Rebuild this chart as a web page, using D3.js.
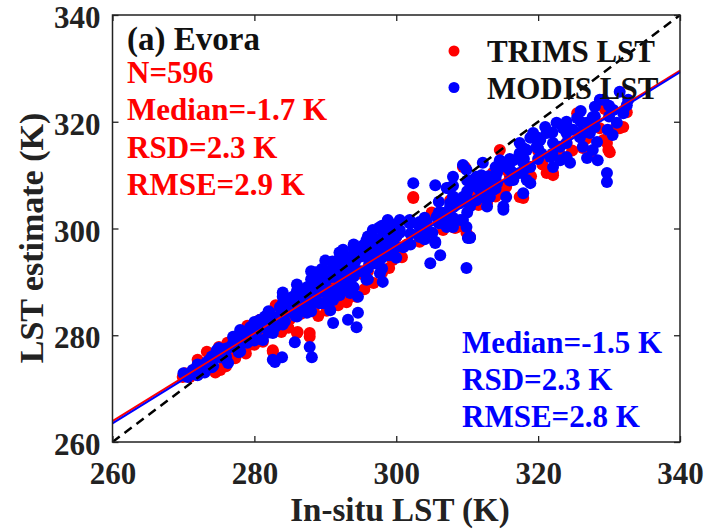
<!DOCTYPE html>
<html>
<head>
<meta charset="utf-8">
<script src="https://cdn.jsdelivr.net/npm/d3@7"></script>
<style>
  body { margin: 0; background: #fff; }
  text { font-family: "Liberation Serif", "Times New Roman", serif; font-weight: bold; }
</style>
</head>
<body>
<svg id="chart" width="707" height="531"></svg>
<script>
// Axis ticks (K)
const xTicks = [260, 280, 300, 320, 340];
const yTicks = [260, 280, 300, 320, 340];

// TRIMS LST estimates: [in-situ LST, estimated LST]
const trims = [
  [269.9,272.2],[270.2,272.9],[270.9,272.2],[271.9,274.1],[272.5,273.0],[273.3,276.9],[274.0,274.0],
  [275.2,273.5],[275.8,275.0],[276.2,278.6],[276.8,276.0],[277.3,275.7],[277.5,276.7],[278.2,277.8],
  [279.0,278.0],[279.8,279.7],[280.5,279.3],[280.8,282.9],[281.5,280.5],[282.3,281.0],[282.6,277.2],
  [282.6,276.9],[283.5,282.0],[284.6,286.0],[285.0,283.0],[286.0,280.4],[286.1,280.6],[286.5,284.0],
  [287.4,286.6],[287.8,279.7],[287.8,280.4],[288.5,285.5],[289.5,287.0],[290.5,288.0],[291.5,286.5],
  [292.5,289.0],[293.5,290.0],[294.4,287.2],[293.5,287.2],[295.0,291.5],[296.0,292.0],[297.0,293.5],
  [298.0,291.7],[298.5,295.0],[299.5,294.1],[300.5,296.5],[301.5,297.0],[302.4,305.9],[302.4,305.7],
  [303.3,297.8],[303.3,297.5],[304.5,299.0],[306.6,299.7],[308.0,300.3],[308.3,300.1],[308.6,300.3],
  [309.9,299.2],[310.4,298.4],[307.6,305.3],[309.4,311.5],[309.7,311.5],[310.8,307.2],[312.2,307.8],
  [312.8,304.8],[313.6,310.4],[314.6,314.7],[315.1,306.6],[315.1,307.2],[315.5,307.8],[315.5,311.0],
  [317.4,305.9],[317.9,305.7],[318.4,309.7],[321.2,310.4],[322.1,310.0],[322.1,310.4],[323.1,313.8],
  [325.5,321.6],[326.3,315.1],[327.3,314.0],[328.7,318.8],[329.2,316.6],[329.4,322.4],[329.7,316.0],
  [329.9,314.7],[330.1,314.3],[330.6,318.5],[331.5,318.8],[332.0,319.0],[332.5,321.8],
  [285.0,285.0],[288.0,287.0],[291.0,290.0],[294.0,292.5],[297.0,296.0],[300.0,298.5],[305.0,303.0],
  [311.0,306.0],[316.0,310.0],[320.0,314.5],[324.0,316.0],[327.0,319.0],
  [274.5,273.0],[276.0,274.2],[278.8,276.6],[280.0,278.2],[281.2,278.8],[283.8,280.6],[284.8,281.4],
  [289.0,283.6],[290.2,284.6],[291.8,285.6],[293.0,286.2],[295.5,288.6],[296.8,289.8],[299.0,292.6],
  [300.8,294.6],[272.0,275.4],[275.0,277.8],[279.0,281.8],[283.0,285.6],[311.6,304.4],[314.0,306.0],
  [319.0,309.8],[320.6,312.0],[324.8,314.6],[326.8,316.8]
];

// MODIS LST estimates: [in-situ LST, estimated LST]
const modis = [
  [270.0,272.9],[270.6,272.2],[271.3,273.5],[271.8,272.6],[272.4,274.2],[272.8,273.9],[273.3,275.0],
  [273.7,275.4],[274.2,274.3],[274.7,277.2],[275.2,275.9],[275.6,276.8],[276.3,274.8],[276.6,277.8],
  [277.0,279.7],[277.4,278.2],[278.0,281.0],[278.4,279.7],[279.0,278.6],[279.4,281.5],[279.8,280.4],
  [280.4,281.0],[280.8,282.9],[281.2,279.1],[281.8,282.3],[282.2,284.2],[282.6,280.4],[283.2,283.4],
  [283.6,285.3],[284.0,287.2],[284.3,282.6],[285.0,285.3],[285.4,287.2],[285.8,283.6],[286.4,284.7],
  [286.4,286.6],[287.4,287.9],[287.4,284.2],[287.8,285.3],[288.3,290.9],[288.8,289.0],[289.2,286.0],
  [289.7,286.0],[289.7,289.8],[287.4,289.0],[287.4,284.7],[286.0,288.3],[284.8,286.0],[283.0,281.6],
  [281.5,283.5],[280.0,279.5],[278.8,280.6],[277.8,276.8],[276.0,276.0],[275.0,277.6],[273.0,273.0],
  [282.6,275.4],[283.9,275.9],[285.7,278.7],[287.8,277.8],[288.1,275.9],[282.9,275.0],[291.1,282.3],
  [293.2,282.9],[294.4,281.5],[294.6,284.2],[290.7,284.7],
  [288.6,291.8],[289.5,292.4],[290.2,288.4],[290.9,290.9],[291.1,286.6],[291.6,293.0],[292.1,294.7],
  [292.5,296.0],[292.5,288.5],[293.0,291.2],[293.5,294.7],[293.5,287.9],[293.9,292.2],[294.6,287.2],
  [294.9,294.7],[295.3,296.8],[295.8,290.4],[295.8,297.8],[296.2,293.5],[296.7,299.7],[297.0,295.0],
  [297.7,291.6],[298.1,290.0],[298.1,299.7],[298.4,296.8],[298.8,301.6],[299.1,301.0],[299.1,297.8],
  [299.5,296.0],[299.5,297.3],[300.0,298.6],[300.5,301.6],[300.5,299.7],[300.5,299.2],[301.0,296.5],
  [301.9,301.6],[301.9,301.0],[303.3,301.2],[303.3,299.2],[303.3,300.3],[303.3,298.4],[290.0,289.0],
  [291.4,291.0],[292.8,292.6],[294.2,293.8],[295.6,295.2],[297.0,296.6],[289.0,288.0],[296.4,298.6],
  [297.6,300.2],[294.0,296.3],[291.0,293.8],[289.8,291.8],
  [305.1,299.2],[305.5,297.3],[305.5,297.5],[306.2,295.0],[304.8,293.5],[309.9,292.6],[310.4,298.2],
  [310.1,298.2],[307.6,304.1],[309.0,304.8],[306.6,302.9],[304.3,301.2],[305.7,302.2],[307.1,301.0],
  [308.0,300.3],[309.4,301.6],[302.4,308.5],[305.5,308.1],[308.0,309.7],[307.3,307.6],[309.4,311.9],
  [310.8,309.1],[311.3,307.8],[312.2,305.9],[313.6,307.2],[314.2,310.4],[315.5,311.5],[316.5,309.1],
  [317.4,310.4],[317.9,306.6],[315.5,305.9],[315.1,303.5],[312.8,304.1],[309.9,305.9],[309.0,304.8],
  [307.6,304.8],[306.6,302.9],[309.9,311.0],[307.1,307.6],[309.4,305.9],[308.6,304.8],[310.4,304.1],
  [311.3,305.3],[313.2,305.9],[315.1,304.1],[309.0,301.6],[309.9,300.3],[307.1,300.3],[310.4,298.4],
  [312.2,312.3],[314.6,312.8],[314.6,311.5],[316.0,311.0],[316.5,312.8],[316.5,310.4],[317.4,314.1],
  [317.9,312.3],[318.4,314.7],[318.4,309.1],[318.9,308.5],[318.9,311.5],[318.9,317.0],[319.3,317.9],
  [319.8,315.3],[320.3,316.6],[321.2,317.9],[321.7,313.4],[322.1,316.0],[322.1,311.5],[322.6,319.8],
  [323.1,315.3],[323.1,312.8],[324.0,317.9],[324.0,313.4],[324.5,312.3],[324.9,318.5],[325.5,320.7],
  [325.9,317.1],[326.3,315.3],[326.9,319.8],[326.9,313.2],[327.3,317.9],[327.7,320.9],[327.7,314.7],
  [328.0,322.8],[328.3,316.2],[328.4,312.8],[329.2,324.1],[329.7,310.4],[329.7,308.7],[330.6,322.2],
  [331.1,319.8],[332.0,321.6],[332.5,323.1],[331.5,325.6],[332.7,324.1],[328.7,324.1],[314.2,308.5],
  [313.2,307.8],[312.2,309.1],[311.8,307.2],[310.8,308.5],[311.3,309.7],[317.4,316.0],[313.0,309.8],
  [320.5,314.0],[321.0,319.0],[323.5,318.8],[326.0,322.0],[329.8,318.5],[330.5,317.5],
  // dense core of the lower band
  [272.0,272.5],[272.0,274.5],[274.0,274.0],[274.0,276.0],[276.0,275.5],[276.0,277.5],[278.0,277.0],
  [278.0,279.0],[278.0,280.5],[280.0,279.0],[280.0,281.0],[280.0,282.5],[282.0,280.5],[282.0,282.5],
  [282.0,284.5],[284.0,282.0],[284.0,284.0],[284.0,286.0],[284.0,288.0],[286.0,283.5],[286.0,285.5],
  [286.0,287.5],[286.0,289.5],[288.0,284.5],[288.0,286.5],[288.0,288.5],[288.0,290.5],[288.0,292.0],
  [290.0,286.0],[290.0,288.0],[290.0,290.0],[290.0,292.0],[290.0,294.0],[292.0,287.5],[292.0,289.5],
  [292.0,291.5],[292.0,293.5],[292.0,295.5],[294.0,289.0],[294.0,291.0],[294.0,293.0],[294.0,295.0],
  [294.0,297.0],[296.0,290.5],[296.0,292.5],[296.0,294.5],[296.0,296.5],[296.0,298.5],[298.0,292.5],
  [298.0,294.5],[298.0,296.5],[298.0,298.5],[298.0,300.5],[300.0,294.5],[300.0,296.5],[300.0,298.5],
  [300.0,300.5],[302.0,297.0],[302.0,299.0],[302.0,301.0],[304.0,298.0],[304.0,300.0],[304.0,302.0],
  [285.0,284.5],[287.0,286.0],[289.0,289.5],[291.0,288.5],[293.0,290.0],[295.0,292.0],[297.0,293.5],
  [299.0,295.0],[287.0,288.5],[289.0,291.0],[291.0,292.5],[293.0,294.0],[295.0,296.0],[297.0,298.0],
  [299.0,299.5],[283.0,283.0],[281.0,281.5],[279.0,280.0],[277.0,278.5],[275.0,276.0],[273.0,274.5],
  // dense core of the upper cluster
  [306.0,301.0],[306.0,303.0],[306.0,305.0],[308.0,302.0],[308.0,304.0],[308.0,306.0],[308.0,308.0],
  [310.0,303.0],[310.0,305.0],[310.0,307.0],[310.0,309.0],[312.0,306.0],[312.0,308.0],[312.0,310.0],
  [314.0,307.5],[314.0,309.5],[314.0,311.5],[316.0,309.0],[316.0,311.0],[316.0,313.0],[318.0,311.0],
  [318.0,313.0],[318.0,315.0],[320.0,313.0],[320.0,315.0],[320.0,317.0],[322.0,314.0],[322.0,318.0],
  [324.0,316.0],[324.0,320.0],[326.0,318.0],[326.0,320.0],[328.0,319.0],[328.0,321.0],[330.0,321.0],
  [330.0,323.0],[332.0,322.0]
];

// Linear fits: estimated LST at in-situ 260 K and 340 K
const fitNames = ["TRIMS", "MODIS"];
const fitStart = [263.9, 263.5];
const fitEnd = [329.6, 329.3];

const trimsStats = ["N=596", "Median=-1.7 K", "RSD=2.3 K", "RMSE=2.9 K"];
const modisStats = ["Median=-1.5 K", "RSD=2.3 K", "RMSE=2.8 K"];
const legendLabels = ["TRIMS LST", "MODIS LST"];

const RED = "#ff0000", BLUE = "#0000ff";
const fitColors = [RED, BLUE];

const svg = d3.select("#chart");
const x = d3.scaleLinear().domain([260, 340]).range([112.5, 680]);
const y = d3.scaleLinear().domain([260, 340]).range([442, 15]);
const R = 6;

// Scatter points (TRIMS first, MODIS on top)
const plot = svg.append("g");
plot.selectAll("circle.trims").data(trims).join("circle")
  .attr("class", "trims").attr("cx", d => x(d[0])).attr("cy", d => y(d[1]))
  .attr("r", R).attr("fill", RED);
plot.selectAll("circle.modis").data(modis).join("circle")
  .attr("class", "modis").attr("cx", d => x(d[0])).attr("cy", d => y(d[1]))
  .attr("r", R).attr("fill", BLUE);

// Fitted lines
fitNames.forEach((n, i) => {
  svg.append("line")
    .attr("x1", x(260)).attr("y1", y(fitStart[i]))
    .attr("x2", x(340)).attr("y2", y(fitEnd[i]))
    .attr("stroke", fitColors[i]).attr("stroke-width", 2);
});

// 1:1 line
svg.append("line")
  .attr("x1", x(260)).attr("y1", y(260)).attr("x2", x(340)).attr("y2", y(340))
  .attr("stroke", "#000").attr("stroke-width", 2.5).attr("stroke-dasharray", "9,6");

// Axes with inward ticks on all four sides
const tickFont = "31px";
const gx = svg.append("g").attr("transform", `translate(0,${y(260)})`)
  .call(d3.axisBottom(x).tickValues(xTicks).tickFormat(d3.format("d"))
    .tickSizeInner(-6).tickSizeOuter(0).tickPadding(20));
const gy = svg.append("g").attr("transform", `translate(${x(260)},0)`)
  .call(d3.axisLeft(y).tickValues(yTicks).tickFormat(d3.format("d"))
    .tickSizeInner(-6).tickSizeOuter(0).tickPadding(12));
const gt = svg.append("g").attr("transform", `translate(0,${y(340)})`)
  .call(d3.axisTop(x).tickValues(xTicks).tickFormat("").tickSizeInner(-6).tickSizeOuter(0));
const gr = svg.append("g").attr("transform", `translate(${x(340)},0)`)
  .call(d3.axisRight(y).tickValues(yTicks).tickFormat("").tickSizeInner(-6).tickSizeOuter(0));
[gx, gy, gt, gr].forEach(g => {
  g.select(".domain").remove();
  g.selectAll(".tick line").attr("stroke", "#222").attr("stroke-width", 1.3);
  g.selectAll(".tick text").attr("fill", "#222").style("font-size", tickFont)
    .style("font-family", '"Liberation Serif", serif').style("font-weight", "bold");
});
gy.selectAll(".tick text").attr("dy", "0.41em");

// Plot frame
svg.append("rect")
  .attr("x", x(260)).attr("y", y(340))
  .attr("width", x(340) - x(260)).attr("height", y(260) - y(340))
  .attr("fill", "none").attr("stroke", "#222").attr("stroke-width", 1.5);

// Axis titles
svg.append("text").attr("x", 400).attr("y", 521).attr("text-anchor", "middle")
  .attr("fill", "#222").style("font-size", "33px").text("In-situ LST (K)");
svg.append("text").attr("transform", "translate(43,238) rotate(-90)").attr("text-anchor", "middle")
  .attr("fill", "#222").style("font-size", "34px").text("LST estimate (K)");

// Panel title and statistics
svg.append("text").attr("x", 127).attr("y", 50).attr("fill", "#111")
  .style("font-size", "33px").text("(a) Evora");
svg.selectAll("text.tstat").data(trimsStats).join("text").attr("class", "tstat")
  .attr("x", 127).attr("y", (d, i) => 83 + i * 37.3).attr("fill", RED)
  .style("font-size", "31px").text(d => d);
svg.selectAll("text.mstat").data(modisStats).join("text").attr("class", "mstat")
  .attr("x", 462).attr("y", (d, i) => 353 + i * 37).attr("fill", BLUE)
  .style("font-size", "31px").text(d => d);

// Legend
legendLabels.forEach((lab, i) => {
  const cy = 51 + i * 36.5;
  svg.append("circle").attr("cx", 454).attr("cy", cy).attr("r", 5.5).attr("fill", fitColors[i]);
  svg.append("text").attr("x", 487).attr("y", cy + 11).attr("fill", "#111")
    .style("font-size", "31px").text(lab);
});
</script>
</body>
</html>
